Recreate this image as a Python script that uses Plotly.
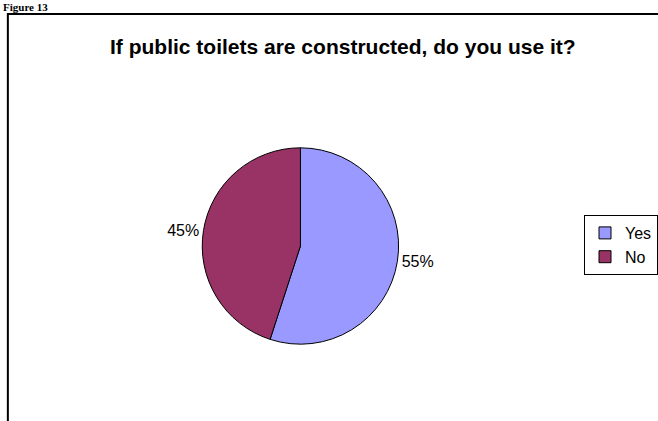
import plotly.graph_objects as go

labels = ["Yes", "No"]
values = [55, 45]
colors = ["#9999FF", "#993366"]
title_text = "If public toilets are constructed, do you use it?"
caption = "Figure 13"

W, H = 658, 421
cx, cy, half = 306, 246, 100

fig = go.Figure(go.Pie(
    labels=labels, values=values, sort=False, direction="clockwise", rotation=0,
    marker=dict(colors=colors, line=dict(color="black", width=1)),
    textinfo="percent", textposition="outside",
    texttemplate="%{percent:.0%}",
    textfont=dict(family="Liberation Sans", size=16, color="black"),
    domain=dict(x=[(cx - half) / W, (cx + half) / W],
                y=[(H - cy - half) / H, (H - cy + half) / H]),
))

fig.update_layout(
    width=W, height=H, margin=dict(l=0, r=0, t=0, b=0),
    paper_bgcolor="white", plot_bgcolor="white",
    showlegend=True,
    legend=dict(x=595 / W, xanchor="left", y=(H - 215) / H, yanchor="top",
                bordercolor="black", borderwidth=1, itemwidth=30,
                font=dict(family="Liberation Sans", size=16, color="black"),
                bgcolor="white"),
    shapes=[dict(type="rect", xref="paper", yref="paper",
                 x0=8 / W, x1=1.2, y0=-0.2, y1=(H - 14) / H,
                 line=dict(color="black", width=2))],
    annotations=[
        dict(text="<b>" + title_text + "</b>", xref="paper", yref="paper",
             x=349 / W, y=(H - 46) / H, xanchor="center", yanchor="middle",
             showarrow=False,
             font=dict(family="Liberation Sans", size=21, color="black")),
        dict(text="<b>" + caption + "</b>", xref="paper", yref="paper",
             x=2 / W, y=1, xanchor="left", yanchor="top",
             showarrow=False, borderpad=0,
             font=dict(family="Liberation Serif", size=11, color="black")),
    ],
)

fig.write_html("out.html")
